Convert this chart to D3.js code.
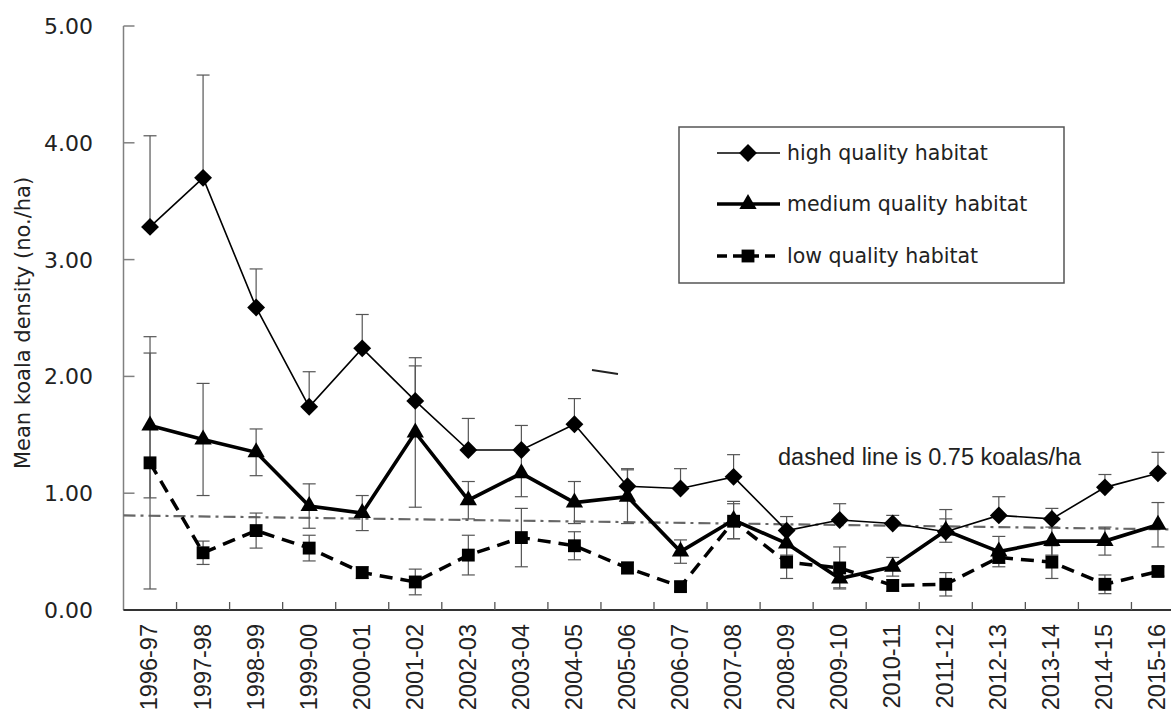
<!DOCTYPE html>
<html lang="en">
<head>
  <meta charset="UTF-8">
  <title>Mean koala density</title>
  <script src="https://d3js.org/d3.v7.min.js"></script>
  <style>
    body { margin: 0; background: #fff; }
    svg { display: block; }
  </style>
</head>
<body>
  <svg width="1171" height="718"></svg>

  <script>
    // survey years
    const years = ['1996-97', '1997-98', '1998-99', '1999-00', '2000-01', '2001-02', '2002-03',
      '2003-04', '2004-05', '2005-06', '2006-07', '2007-08', '2008-09', '2009-10', '2010-11',
      '2011-12', '2012-13', '2013-14', '2014-15', '2015-16'];

    // mean density per habitat class
    const high = [3.28, 3.70, 2.59, 1.74, 2.24, 1.79, 1.37, 1.37, 1.59, 1.06,
      1.04, 1.14, 0.68, 0.77, 0.74, 0.67, 0.81, 0.78, 1.05, 1.17];
    const medium = [1.58, 1.46, 1.35, 0.89, 0.83, 1.52, 0.94, 1.17, 0.92, 0.97,
      0.50, 0.77, 0.57, 0.27, 0.37, 0.68, 0.50, 0.59, 0.59, 0.73];
    const low = [1.26, 0.49, 0.68, 0.53, 0.32, 0.24, 0.47, 0.62, 0.55, 0.36,
      0.20, 0.76, 0.41, 0.36, 0.21, 0.22, 0.45, 0.41, 0.22, 0.33];

    // standard errors
    const highErr = [0.78, 0.88, 0.33, 0.30, 0.29, 0.30, 0.27, 0.21, 0.22, 0.15,
      0.17, 0.19, 0.12, 0.14, 0.07, 0.19, 0.16, 0.09, 0.11, 0.18];
    const mediumErr = [0.62, 0.48, 0.20, 0.19, 0.15, 0.64, 0.16, 0.20, 0.18, 0.23,
      0.10, 0.16, 0.10, 0.08, 0.08, 0.10, 0.13, 0.12, 0.12, 0.19];
    const lowErr = [1.08, 0.10, 0.15, 0.11, 0.05, 0.11, 0.17, 0.25, 0.12, 0.05,
      0.04, 0.15, 0.14, 0.18, 0.05, 0.10, 0.05, 0.14, 0.08, 0.04];

    const yTicks = [0, 1, 2, 3, 4, 5];
    // hand drawn reference line (left end, right end)
    const refLine = [0.81, 0.69];

    const svg = d3.select('svg');
    const plotLeft = 123.5, plotBottom = 610, plotTop = 26;
    const step = 53.05;

    const x = d3.scaleBand().domain(years).range([plotLeft, plotLeft + step * years.length]).padding(0);
    const y = d3.scaleLinear().domain([0, 5]).range([plotBottom, plotTop]);
    const cx = d => x(d) + x.bandwidth() / 2;

    const series = [
      { name: 'high quality habitat', values: high, err: highErr, both: false,
        width: 1.6, dash: null, symbol: 'diamond' },
      { name: 'medium quality habitat', values: medium, err: mediumErr, both: true,
        width: 3.6, dash: null, symbol: 'triangle' },
      { name: 'low quality habitat', values: low, err: lowErr, both: true,
        width: 3.5, dash: '13,8', symbol: 'square' }
    ];

    const symbolPath = {
      diamond: d3.symbol().type(d3.symbolSquare).size(160)(),
      triangle: d3.symbol().type(d3.symbolTriangle).size(130)(),
      square: d3.symbol().type(d3.symbolSquare).size(165)()
    };
    const symbolRotate = { diamond: 45, triangle: 0, square: 0 };

    // axes
    svg.append('line')
      .attr('x1', plotLeft).attr('x2', plotLeft)
      .attr('y1', plotTop).attr('y2', plotBottom)
      .attr('stroke', '#808080').attr('stroke-width', 1.5);

    svg.selectAll('.ytick')
      .data(yTicks)
      .enter().append('line')
      .attr('x1', plotLeft).attr('x2', plotLeft + 11)
      .attr('y1', d => y(d)).attr('y2', d => y(d))
      .attr('stroke', '#808080').attr('stroke-width', 1.5);

    svg.selectAll('.ylabel')
      .data(yTicks)
      .enter().append('text')
      .attr('x', 93)
      .attr('y', d => y(d))
      .attr('dy', '0.36em')
      .attr('text-anchor', 'end')
      .attr('font-family', 'DejaVu Sans')
      .attr('font-size', 22)
      .attr('fill', '#222')
      .text(d => d.toFixed(2));

    svg.append('text')
      .attr('transform', 'translate(30,' + 323 + ') rotate(-90)')
      .attr('text-anchor', 'middle')
      .attr('font-family', 'DejaVu Sans')
      .attr('font-size', 21)
      .attr('fill', '#222')
      .text('Mean koala density (no./ha)');

    svg.append('line')
      .attr('x1', plotLeft).attr('x2', 1171)
      .attr('y1', plotBottom).attr('y2', plotBottom)
      .attr('stroke', '#333').attr('stroke-width', 2);

    svg.selectAll('.xtick')
      .data(years.slice(1))
      .enter().append('line')
      .attr('x1', d => x(d)).attr('x2', d => x(d))
      .attr('y1', plotBottom).attr('y2', plotBottom - 8)
      .attr('stroke', '#555').attr('stroke-width', 1.3);

    svg.selectAll('.xlabel')
      .data(years)
      .enter().append('text')
      .attr('transform', d => 'translate(' + (cx(d) - 1) + ',' + 624 + ') rotate(-90)')
      .attr('dy', '0.36em')
      .attr('text-anchor', 'end')
      .attr('font-family', 'Liberation Sans')
      .attr('font-size', 23.5)
      .attr('fill', '#222')
      .text(d => d);

    // reference line
    svg.append('line')
      .attr('x1', plotLeft).attr('x2', 1171)
      .attr('y1', y(refLine[0])).attr('y2', y(refLine[1]))
      .attr('stroke', '#666').attr('stroke-width', 2.2)
      .attr('stroke-dasharray', '12,5,3,5');

    // stray stroke in the original figure
    svg.append('line')
      .attr('x1', 592).attr('y1', 370).attr('x2', 618).attr('y2', 374)
      .attr('stroke', '#222').attr('stroke-width', 2);

    // error bars
    series.forEach(s => {
      const g = svg.append('g');
      const rows = years.map((yr, i) => ({ yr, v: s.values[i], e: s.err[i] }));
      g.selectAll('line.bar')
        .data(rows)
        .enter().append('line')
        .attr('x1', d => cx(d.yr)).attr('x2', d => cx(d.yr))
        .attr('y1', d => y(d.v + d.e))
        .attr('y2', d => y(s.both ? d.v - d.e : d.v))
        .attr('stroke', '#555').attr('stroke-width', 1.2);
      const caps = s.both ? [1, -1] : [1];
      caps.forEach(sign => {
        g.selectAll('line.cap' + sign)
          .data(rows)
          .enter().append('line')
          .attr('x1', d => cx(d.yr) - 6.5).attr('x2', d => cx(d.yr) + 6.5)
          .attr('y1', d => y(d.v + sign * d.e)).attr('y2', d => y(d.v + sign * d.e))
          .attr('stroke', '#555').attr('stroke-width', 1.2);
      });
    });

    // lines and markers
    series.forEach(s => {
      const line = d3.line()
        .x((d, i) => cx(years[i]))
        .y(d => y(d));
      svg.append('path')
        .datum(s.values)
        .attr('d', line)
        .attr('fill', 'none')
        .attr('stroke', '#000')
        .attr('stroke-width', s.width)
        .attr('stroke-dasharray', s.dash);
      svg.append('g').selectAll('path')
        .data(s.values)
        .enter().append('path')
        .attr('d', symbolPath[s.symbol])
        .attr('transform', (d, i) => 'translate(' + cx(years[i]) + ',' + y(d) + ') rotate(' + symbolRotate[s.symbol] + ')')
        .attr('fill', '#000');
    });

    // legend
    const legend = svg.append('g');
    legend.append('rect')
      .attr('x', 679).attr('y', 127).attr('width', 385).attr('height', 156)
      .attr('fill', '#fff').attr('stroke', '#555').attr('stroke-width', 1.5);
    const ly = [153, 204, 256];
    series.forEach((s, i) => {
      legend.append('line')
        .attr('x1', 717).attr('x2', 780)
        .attr('y1', ly[i]).attr('y2', ly[i])
        .attr('stroke', '#000').attr('stroke-width', s.width)
        .attr('stroke-dasharray', s.dash ? '10,6' : null);
      legend.append('path')
        .attr('d', symbolPath[s.symbol])
        .attr('transform', 'translate(748,' + ly[i] + ') rotate(' + symbolRotate[s.symbol] + ')')
        .attr('fill', '#000');
      legend.append('text')
        .attr('x', 787).attr('y', ly[i])
        .attr('dy', '0.36em')
        .attr('font-family', 'DejaVu Sans')
        .attr('font-size', 20.5)
        .attr('fill', '#222')
        .text(s.name);
    });

    svg.append('text')
      .attr('x', 778).attr('y', 465)
      .attr('font-family', 'Liberation Sans')
      .attr('font-size', 23.5)
      .attr('fill', '#222')
      .text('dashed line is 0.75 koalas/ha');
  </script>
</body>
</html>
